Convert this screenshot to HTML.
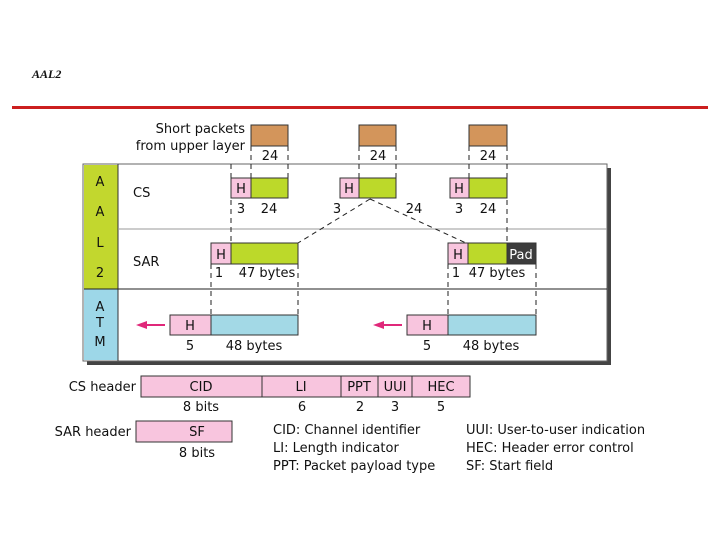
<!DOCTYPE html>
<html><head><meta charset="utf-8"><style>
html,body{margin:0;padding:0;background:#fff;width:720px;height:540px;overflow:hidden}
text{font-family:"DejaVu Sans","Liberation Sans",sans-serif;font-size:13px;fill:#111}
</style></head><body>
<svg width="720" height="540" viewBox="0 0 720 540" xmlns="http://www.w3.org/2000/svg">
<text x="32" y="78" style="font-family:'Liberation Serif',serif;font-style:italic;font-weight:bold;font-size:12px">AAL2</text>
<rect x="12" y="106" width="696" height="3" fill="#cc1f1f"/>
<!-- frame -->
<rect x="87" y="168" width="524" height="197" fill="#444"/>
<rect x="83" y="164" width="524" height="197" fill="#fff" stroke="#666" stroke-width="1"/>
<rect x="84" y="165" width="34" height="124" fill="#c2d72e"/>
<rect x="84" y="289" width="34" height="71" fill="#9dd7e8"/>
<line x1="118" y1="164" x2="118" y2="361" stroke="#333"/>
<line x1="118" y1="229" x2="607" y2="229" stroke="#999"/>
<line x1="84" y1="289" x2="607" y2="289" stroke="#222"/>
<g style="font-size:13px" text-anchor="middle">
<text x="100" y="186">A</text><text x="100" y="216">A</text><text x="100" y="247">L</text><text x="100" y="277">2</text>
<text x="100" y="311">A</text><text x="100" y="327">T</text><text x="100" y="346">M</text>
</g>
<text x="133" y="197">CS</text><text x="133" y="266">SAR</text>
<text x="245" y="133" text-anchor="end">Short packets</text>
<text x="245" y="150" text-anchor="end">from upper layer</text>
<!-- dashed lines -->
<g stroke="#222" stroke-dasharray="5,4" stroke-width="1" fill="none">
<line x1="251" y1="146" x2="251" y2="178"/><line x1="288" y1="146" x2="288" y2="178"/>
<line x1="359" y1="146" x2="359" y2="178"/><line x1="396" y1="146" x2="396" y2="178"/>
<line x1="469" y1="146" x2="469" y2="178"/><line x1="507" y1="146" x2="507" y2="243"/>
<line x1="231" y1="164" x2="231" y2="243"/>
<line x1="370" y1="199" x2="298" y2="243"/><line x1="370" y1="199" x2="466" y2="243"/>
<line x1="211" y1="264" x2="211" y2="315"/><line x1="298" y1="264" x2="298" y2="315"/>
<line x1="448" y1="264" x2="448" y2="315"/><line x1="536" y1="264" x2="536" y2="315"/>
</g>
<!-- brown -->
<g fill="#d3955b" stroke="#333">
<rect x="251" y="125" width="37" height="21"/><rect x="359" y="125" width="37" height="21"/><rect x="469" y="125" width="38" height="21"/>
</g>
<g text-anchor="middle"><text x="270" y="160">24</text><text x="378" y="160">24</text><text x="488" y="160">24</text></g>
<!-- CS boxes -->
<g stroke="#333">
<rect x="231" y="178" width="20" height="20" fill="#f8c5de"/><rect x="251" y="178" width="37" height="20" fill="#bcd92a"/>
<rect x="340" y="178" width="19" height="20" fill="#f8c5de"/><rect x="359" y="178" width="37" height="20" fill="#bcd92a"/>
<rect x="450" y="178" width="19" height="20" fill="#f8c5de"/><rect x="469" y="178" width="38" height="20" fill="#bcd92a"/>
</g>
<g text-anchor="middle"><text x="241" y="193">H</text><text x="349" y="193">H</text><text x="459" y="193">H</text>
<text x="241" y="213">3</text><text x="269" y="213">24</text><text x="337" y="213">3</text><text x="414" y="213">24</text><text x="459" y="213">3</text><text x="488" y="213">24</text></g>
<!-- SAR -->
<g stroke="#333">
<rect x="211" y="243" width="20" height="21" fill="#f8c5de"/><rect x="231" y="243" width="67" height="21" fill="#bcd92a"/>
<rect x="448" y="243" width="20" height="21" fill="#f8c5de"/><rect x="468" y="243" width="39" height="21" fill="#bcd92a"/><rect x="507" y="243" width="29" height="21" fill="#3c3c3c"/>
</g>
<g text-anchor="middle"><text x="221" y="259">H</text><text x="458" y="259">H</text><text x="521" y="259" style="fill:#fff">Pad</text>
<text x="219" y="277">1</text><text x="267" y="277">47 bytes</text><text x="456" y="277">1</text><text x="497" y="277">47 bytes</text></g>
<!-- ATM -->
<g stroke="#333">
<rect x="170" y="315" width="41" height="20" fill="#f8c5de"/><rect x="211" y="315" width="87" height="20" fill="#a3d9e6"/>
<rect x="407" y="315" width="41" height="20" fill="#f8c5de"/><rect x="448" y="315" width="88" height="20" fill="#a3d9e6"/>
</g>
<g text-anchor="middle"><text x="190" y="330">H</text><text x="427" y="330">H</text>
<text x="190" y="350">5</text><text x="254" y="350">48 bytes</text><text x="427" y="350">5</text><text x="491" y="350">48 bytes</text></g>
<g stroke="#e0287a" stroke-width="2" fill="#e0287a">
<line x1="145" y1="325" x2="165" y2="325"/><polygon points="136,325 147,321 147,329" stroke="none"/>
<line x1="382" y1="325" x2="402" y2="325"/><polygon points="373,325 384,321 384,329" stroke="none"/>
</g>
<!-- headers -->
<text x="136" y="391" text-anchor="end">CS header</text>
<g stroke="#333" fill="#f8c5de">
<rect x="141" y="376" width="121" height="21"/><rect x="262" y="376" width="79" height="21"/><rect x="341" y="376" width="37" height="21"/><rect x="378" y="376" width="34" height="21"/><rect x="412" y="376" width="58" height="21"/>
<rect x="136" y="421" width="96" height="21"/>
</g>
<g text-anchor="middle"><text x="201" y="391">CID</text><text x="301" y="391">LI</text><text x="359" y="391">PPT</text><text x="395" y="391">UUI</text><text x="441" y="391">HEC</text>
<text x="201" y="411">8 bits</text><text x="302" y="411">6</text><text x="360" y="411">2</text><text x="395" y="411">3</text><text x="441" y="411">5</text>
<text x="197" y="436">SF</text><text x="197" y="457">8 bits</text></g>
<text x="131" y="436" text-anchor="end">SAR header</text>
<text x="273" y="434">CID: Channel identifier</text><text x="273" y="452">LI: Length indicator</text><text x="273" y="470">PPT: Packet payload type</text>
<text x="466" y="434">UUI: User-to-user indication</text><text x="466" y="452">HEC: Header error control</text><text x="466" y="470">SF: Start field</text>
</svg>
</body></html>
